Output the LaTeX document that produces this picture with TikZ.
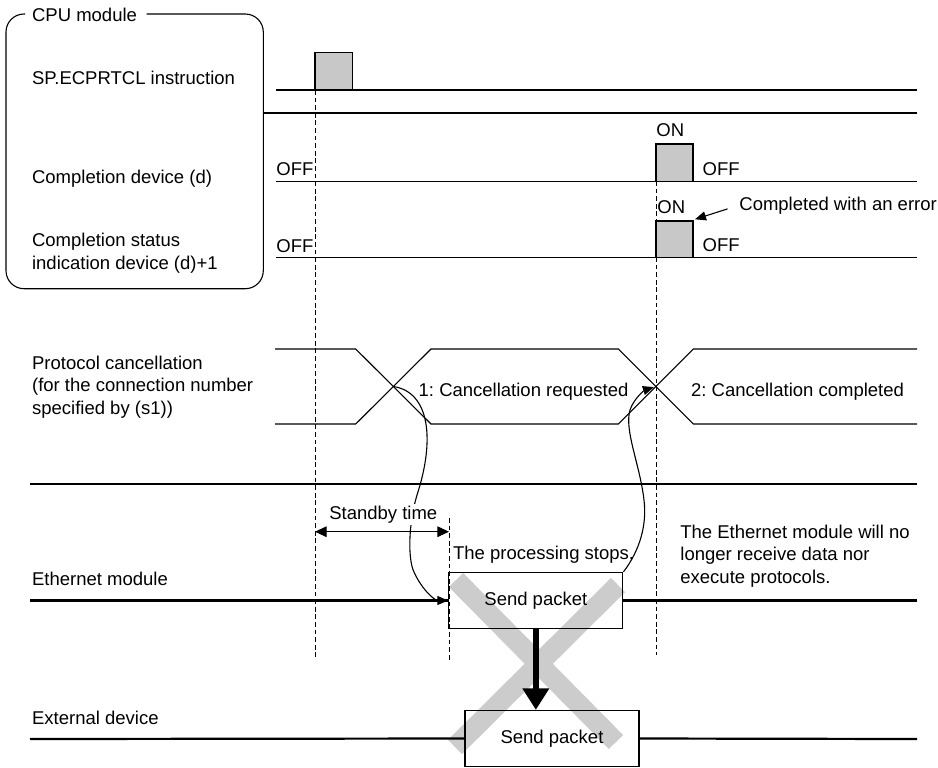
\documentclass[tikz,border=0pt]{standalone}
\usepackage{fontspec}
\setmainfont{Liberation Sans}
\usepackage{xcolor}
\usetikzlibrary{arrows.meta}
\definecolor{pulsegray}{RGB}{200,200,200}
\definecolor{crossgray}{RGB}{204,204,204}
\frenchspacing

\begin{document}
\begin{tikzpicture}[x=0.5pt, y=-0.5pt,
  every node/.style={font=\fontsize{9.25}{11.25}\selectfont, inner sep=0pt},
  lbl/.style={anchor=base west, align=left},
  sig/.style={line width=0.55pt},
  bus/.style={line width=1.1pt},
  guide/.style={line width=0.5pt, dash pattern=on 2.4pt off 1.4pt},
  tip/.style={-{Triangle[length=5.5pt, width=4.5pt]}},
  packet/.style={draw, line width=0.6pt, minimum width=87pt, minimum height=28pt}]
  \useasboundingbox (0,0) rectangle (938,767);
  % ---- cross over the packets (lowest) ----
  \draw[crossgray, line width=10pt] (456,580) -- (616,742);
  \draw[crossgray, line width=10pt] (618,585) -- (455,747);
  % ---- dashed guides ----
  \draw[guide] (315,90) -- (315,657);
  \draw[guide] (656,181) -- (656,655);
  \draw[guide] (449,518) -- (449,660);
  % ---- CPU module ----
  \draw[sig, rounded corners=9pt] (25,14) -- (6,14) -- (6,288.7)
    -- (263.3,288.7) -- (263.3,14) -- (146.7,14);
  \node[lbl] (cpu) at (31.7,21) {CPU module};
  \node[lbl] (instr) at (31.7,84) {SP.ECPRTCL instruction};
  \node[lbl] (done) at (31.7,183) {Completion device (d)};
  \node[lbl] (stat) at (31.7,269) {Completion status\\indication device (d)+1};
  % SP.ECPRTCL instruction
  \draw[sig, fill=pulsegray] (315,90) |- (352.3,52.7) -- (352.3,90);
  \draw[sig] (276,90) -- (917,90);
  \draw[bus] (263.3,113) -- (917,113);
  % completion device
  \draw[sig, fill=pulsegray] (656,181.3) |- (693,144) -- (693,181.3);
  \draw[sig] (276,181.3) -- (917,181.3);
  \node[lbl] (off1) at (276,175) {OFF};
  \node[lbl] (on1) at (656,136.7) {ON};
  \node[lbl] (off2) at (702.3,175) {OFF};
  % completion status
  \draw[sig, fill=pulsegray] (656,257.3) |- (693,221) -- (693,257.3);
  \draw[sig] (276,257.3) -- (917,257.3);
  \node[lbl] (off3) at (276,252.3) {OFF};
  \node[lbl] (on2) at (657,213.3) {ON};
  \node[lbl] (off4) at (702.3,251.7) {OFF};
  \node[lbl] (err) at (739,210) {Completed with an error};
  \coordinate (errpt) at (695,219.3);
  \draw[sig, tip, shorten <=6pt] (err.west) -- (errpt);
  % ---- protocol cancellation ----
  \node[lbl] (proto) at (31.7,414.3)
    {Protocol cancellation\\(for the connection number\\specified by (s1))};
  \draw[sig] (275,349) -- (355.7,349) -- (431,424) -- (618.3,424)
    -- (693.3,349) -- (917,349);
  \draw[sig] (275,424) -- (355.7,424) -- (431,349) -- (618.3,349)
    -- (693.3,424) -- (917,424);
  \coordinate (xreq) at (393.3,386.5);
  \coordinate (xdone) at (655.8,386.5);
  \node[lbl] (req) at (418.3,396.7) {1: Cancellation requested};
  \node[lbl] (cpl) at (690.7,396.7) {2: Cancellation completed};
  \draw[bus] (30,484.3) -- (917,484.3);
  % ---- Ethernet module ----
  \node[lbl] (eth) at (31.7,585) {Ethernet module};
  \node[packet] (sp1) at (535.85,600.5) {Send packet};
  \draw[bus] (30,600.5) -- (sp1.west);
  \draw[bus] (sp1.east) -- (917,600.5);
  \node[lbl] (stops) at (452.7,559.3) {The processing stops.};
  \node[lbl] (nomore) at (680,583.3)
    {The Ethernet module will no\\longer receive data nor\\execute protocols.};
  % curves from the protocol signal
  \draw[sig, tip] (xreq) .. controls (430,392) and (435,440) .. (417,495)
    .. controls (408,525) and (408,560) .. (414,572)
    .. controls (422,590) and (435,600.5) .. (sp1.west);
  \draw[sig, tip, shorten >=1pt] (sp1.north east) .. controls (640,550) and (647,525) .. (644,500)
    .. controls (640,465) and (624,430) .. (630,410)
    .. controls (634,398) and (645,390) .. (xdone);
  % standby time
  \coordinate (sb1) at (315,531.7);
  \coordinate (sb2) at (449,531.7);
  \node[anchor=base, fill=white, inner sep=1pt] (stby) at (383.3,519.3) {Standby time};
  \draw[sig, {Triangle[length=5.8pt, width=5.3pt]}-{Triangle[length=5.8pt, width=5.3pt]}]
    (sb1) -- (sb2);
  % ---- external device ----
  \node[lbl] (ext) at (31.7,724) {External device};
  \node[packet] (sp2) at (552,738.5) {Send packet};
  \draw[bus] (30,739) -- (sp2.west);
  \draw[bus] (sp2.east) -- (917,739);
  \draw[line width=2.7pt, -{Triangle[length=10.8pt, width=12.8pt]}]
    (sp1.south) -- (sp1.south |- sp2.north);
\end{tikzpicture}
\end{document}
